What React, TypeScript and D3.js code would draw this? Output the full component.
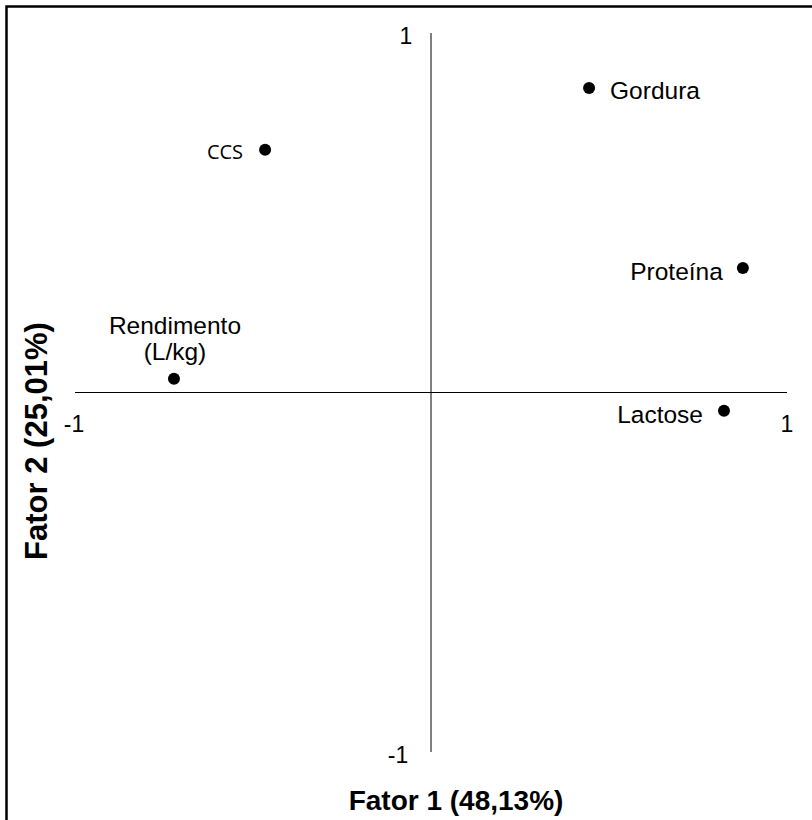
import React from "react";
import * as d3 from "d3";

const variables = ["Gordura", "CCS", "Proteína", "Rendimento (L/kg)", "Lactose"];
const factor1 = [0.444, -0.466, 0.876, -0.722, 0.823];
const factor2 = [0.847, 0.675, 0.346, 0.038, -0.051];
const axisTicks = [-1, 1];
const xTitle = "Fator 1 (48,13%)";
const yTitle = "Fator 2 (25,01%)";

const W = 812;
const H = 820;

export default function App() {
  const x = d3.scaleLinear().domain([-1, 1]).range([75, 787]);
  const y = d3.scaleLinear().domain([-1, 1]).range([752, 33]);
  const font = "'Liberation Sans', Arial, sans-serif";

  const labelPos: Record<string, { dx: number; dy: number; anchor: string; family?: string; size?: number }> = {
    "Gordura": { dx: 21, dy: 11, anchor: "start" },
    "CCS": { dx: -22, dy: 9, anchor: "end", family: "'Open Sans', 'Noto Sans', sans-serif", size: 20 },
    "Proteína": { dx: -20, dy: 12, anchor: "end" },
    "Lactose": { dx: -21, dy: 12, anchor: "end" },
    "Rendimento (L/kg)": { dx: 1, dy: -45, anchor: "middle" },
  };

  return (
    <svg width={W} height={H} style={{ position: "absolute", left: 0, top: 0, background: "#fff" }}>
      <rect x={0} y={0} width={W} height={H} fill="#fff" />
      {/* frame */}
      <path d={`M6.5,${H + 5} L6.5,6.5 L${W + 5},6.5`} fill="none" stroke="#000" strokeWidth={2.5} />
      {/* axes */}
      <line x1={x(0)} x2={x(0)} y1={y(1)} y2={y(-1)} stroke="#000" strokeWidth={1} />
      <line x1={x(-1)} x2={x(1)} y1={y(0)} y2={y(0)} stroke="#000" strokeWidth={1} />
      {/* tick labels */}
      {axisTicks.map((t) => (
        <text key={"xt" + t} x={x(t) + (t < 0 ? -1 : 0)} y={y(0) + 39} fontFamily={font} fontSize={23} textAnchor="middle" fill="#000">
          {t}
        </text>
      ))}
      {axisTicks.map((t) => (
        <text key={"yt" + t} x={x(0) + (t > 0 ? -25 : -33)} y={y(t) + 11} fontFamily={font} fontSize={23} textAnchor="middle" fill="#000">
          {t}
        </text>
      ))}
      {/* points */}
      {variables.map((v, i) => {
        const cx = x(factor1[i]);
        const cy = y(factor2[i]);
        const lp = labelPos[v];
        const lines = v === "Rendimento (L/kg)" ? ["Rendimento", "(L/kg)"] : [v];
        return (
          <g key={v}>
            <circle cx={cx} cy={cy} r={6} fill="#000" />
            <text
              x={cx + lp.dx}
              y={cy + lp.dy}
              fontFamily={lp.family || font}
              fontSize={lp.size || 24.5}
              textAnchor={lp.anchor}
              fill="#000"
            >
              {lines.map((l, j) => (
                <tspan key={j} x={cx + lp.dx} dy={j === 0 ? 0 : 26}>
                  {l}
                </tspan>
              ))}
            </text>
          </g>
        );
      })}
      {/* axis titles */}
      <text x={x(0) + 25} y={810} fontFamily={font} fontSize={28} fontWeight="bold" textAnchor="middle" fill="#000">
        {xTitle}
      </text>
      <text
        transform={`translate(47, 441) rotate(-90)`}
        fontFamily={font}
        fontSize={31}
        fontWeight="bold"
        textAnchor="middle"
        fill="#000"
      >
        {yTitle}
      </text>
    </svg>
  );
}
